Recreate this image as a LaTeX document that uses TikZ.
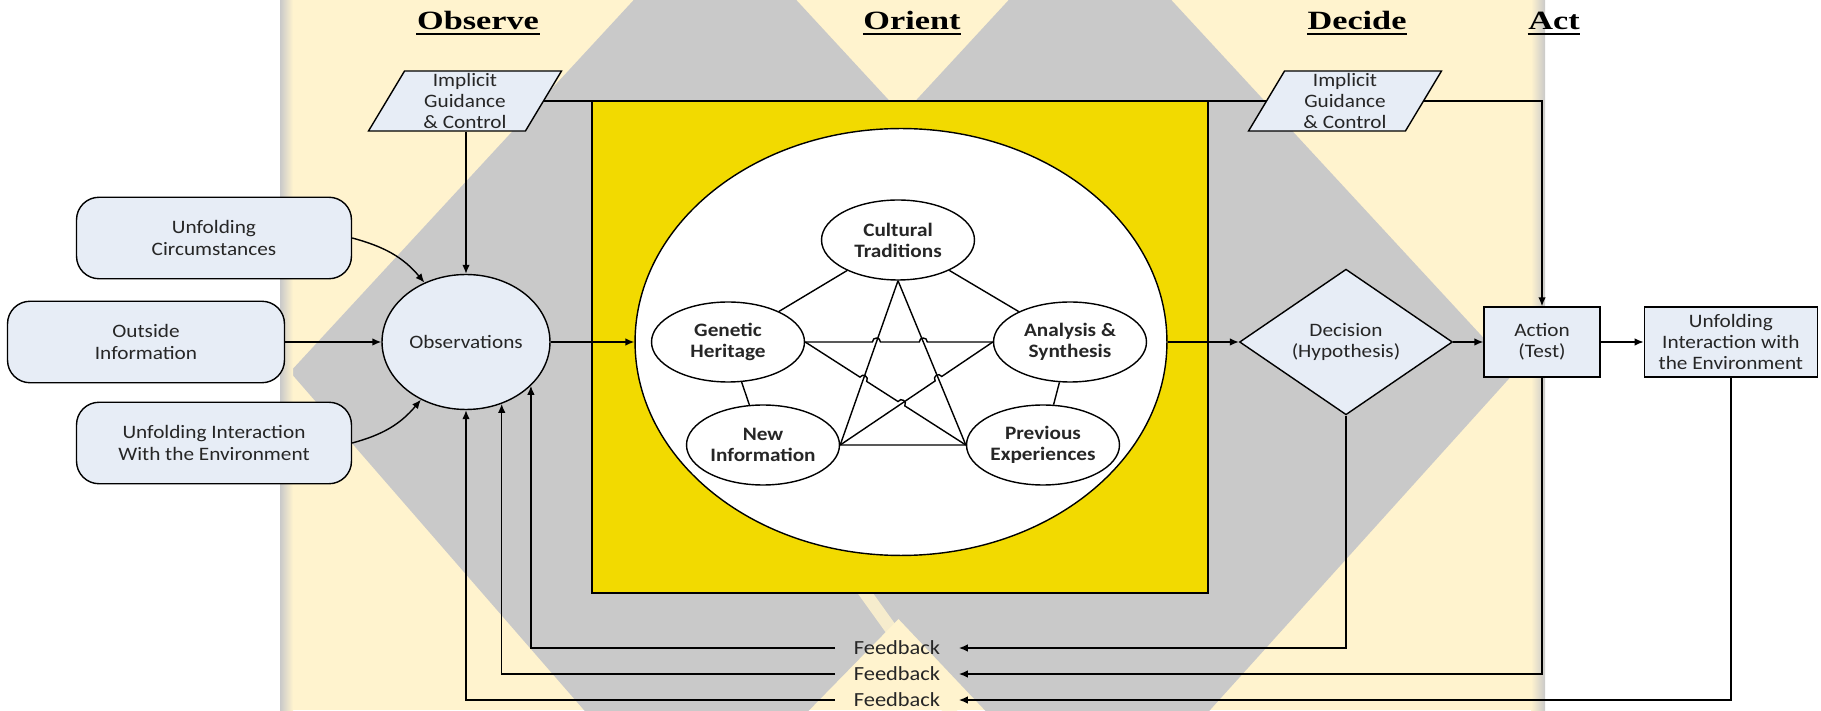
\documentclass[tikz,border=0pt]{standalone}
\usepackage{fontspec}
\setmainfont{Carlito}[FakeStretch=1.12]
\newfontfamily\titlefont{Liberation Serif}[FakeStretch=1.3]
\usetikzlibrary{positioning, shapes.geometric, arrows.meta, calc, intersections}

\definecolor{bandyellow}{RGB}{255,243,206}
\definecolor{markgray}{RGB}{201,201,201}
\definecolor{orientyellow}{RGB}{242,218,0}
\definecolor{nodeblue}{RGB}{231,237,246}
\definecolor{inktext}{RGB}{38,38,38}

\tikzset{
  basetext/.style={font=\fontsize{10.8}{12}\selectfont, text=inktext, align=center},
  phase/.style={font=\titlefont\bfseries\fontsize{15}{18}\selectfont, anchor=base, inner sep=0pt},
  inbox/.style={basetext, draw, fill=nodeblue, rounded corners=0.45cm, minimum width=5.5cm, minimum height=1.63cm},
  guide/.style={basetext, draw, fill=nodeblue, trapezium, trapezium left angle=57, trapezium right angle=123,
    trapezium stretches body, minimum width=3.86cm, minimum height=1.2cm, inner sep=0pt},
  obsnode/.style={basetext, draw, fill=nodeblue, ellipse, minimum width=3.36cm, minimum height=2.7cm, inner sep=0pt},
  idea/.style={basetext, font=\fontsize{10.8}{12}\selectfont\bfseries, draw, fill=white, ellipse,
    minimum width=3.06cm, minimum height=1.6cm, inner sep=0pt},
  decnode/.style={basetext, draw, fill=nodeblue, diamond, minimum width=4.26cm, minimum height=2.8cm, inner sep=0pt},
  actbox/.style={basetext, draw, fill=nodeblue, minimum height=1.4cm, inner sep=0pt},
  fbtext/.style={basetext, font=\fontsize{11.4}{12}\selectfont, inner xsep=0.36cm, inner ysep=0pt},
  hopbend/.style={bend left=90, looseness=1.7}
}
\newcommand{\hoprad}{0.08cm}

\begin{document}
\begin{tikzpicture}[x=0.02cm, y=0.02cm, line width=0.8pt, >={Latex[length=1.8mm, width=1.5mm]}]
    \useasboundingbox (0,0) rectangle (1821,710);
    % watermark behind the diagram
    \fill[bandyellow] (280,0) rectangle (1545,710);
    \begin{scope}
        \clip (280,0) rectangle (1545,710);
        \fill[markgray] (290,338) -- (715,798) -- (1140,338) -- (690,-122) -- cycle;
        \fill[markgray] (665,338) -- (1090,798) -- (1515,338) -- (1100,-122) -- cycle;
        \draw[bandyellow, opacity=0.85, line width=0.25cm] (830,166) -- (962,-18);
    \end{scope}
    \shade[left color=markgray, right color=bandyellow] (280,0) rectangle (293,710);
    \shade[left color=bandyellow, right color=markgray] (1531,0) rectangle (1545,710);

    % phase titles
    \node[phase] (ttlObs) at (478,680) {Observe};
    \node[phase] (ttlOri) at (912,680) {Orient};
    \node[phase] (ttlDec) at (1357,680) {Decide};
    \node[phase] (ttlAct) at (1554,680) {Act};
    \foreach \t in {ttlObs, ttlOri, ttlDec, ttlAct}
        \draw[line width=1.1pt] ([yshift=-2.4pt]\t.base west) -- ([yshift=-2.4pt]\t.base east);

    % orient block
    \draw[fill=orientyellow] (592,117) rectangle (1208,609);
    \node[draw, fill=white, ellipse, minimum width=10.64cm, minimum height=8.54cm] (orient) at (901,368) {};
    \node[idea] (ct) at (898,470) {Cultural\\Traditions};
    \node[idea] (gh) at (728,368) {Genetic\\Heritage};
    \node[idea] (as) at (1070,368) {Analysis \&\\Synthesis};
    \node[idea] (ni) at (763,265) {New\\Information};
    \node[idea] (pe) at (1043,265) {Previous\\Experiences};

    \draw (ct) -- (gh) (ct) -- (as) (gh) -- (ni) (as) -- (pe);
    \path[name path=ctni] (ct.south) -- (ni.east);
    \path[name path=ctpe] (ct.south) -- (pe.west);
    \path[name path=nias] (ni.east) -- (as.west);
    \path[name path=ghpe] (gh.east) -- (pe.west);
    \path[name path=ghas] (gh.east) -- (as.west);
    \draw (ct.south) -- (ni.east) (ct.south) -- (pe.west) (ni.east) -- (pe.west);
    \path[name intersections={of=nias and ctpe, by=h1}];
    \path[name intersections={of=ghpe and ctni, by=h2}];
    \path[name intersections={of=ghpe and nias, by=h3}];
    \path[name intersections={of=ghas and ctni, by=h4}];
    \path[name intersections={of=ghas and ctpe, by=h5}];
    \draw (ni.east) -- ($(h1)!\hoprad!(ni.east)$) to[hopbend] ($(h1)!\hoprad!(as.west)$) -- (as.west);
    \draw (gh.east) -- ($(h2)!\hoprad!(gh.east)$) to[hopbend] ($(h2)!\hoprad!(pe.west)$)
        -- ($(h3)!\hoprad!(gh.east)$) to[hopbend] ($(h3)!\hoprad!(pe.west)$) -- (pe.west);
    \draw (gh.east) -- ($(h4)!\hoprad!(gh.east)$) to[hopbend] ($(h4)!\hoprad!(as.west)$)
        -- ($(h5)!\hoprad!(gh.east)$) to[hopbend] ($(h5)!\hoprad!(as.west)$) -- (as.west);

    % observe side
    \node[guide] (impObs) at (465,609) {Implicit\\Guidance\\\& Control};
    \node[guide] (impDec) at (1345,609) {Implicit\\Guidance\\\& Control};
    \node[obsnode] (obs) at (466,368) {Observations};
    \node[inbox] (circ) at (214,472) {Unfolding\\Circumstances};
    \node[inbox, minimum width=5.54cm] (outside) at (146,368) {Outside\\Information};
    \node[inbox] (interact) at (214,267) {Unfolding Interaction\\With the Environment};

    % decide and act
    \node[decnode] (dec) at (1346,368) {Decision\\(Hypothesis)};
    \node[actbox, minimum width=2.32cm] (act) at (1542,368) {Action\\(Test)};
    \node[actbox, minimum width=3.46cm, right=0.86cm of act] (env) {Unfolding\\Interaction with\\the Environment};

    % feedback labels
    \node[fbtext] (fb1) at (897,62) {Feedback};
    \node[fbtext] (fb2) at (897,36) {Feedback};
    \node[fbtext] (fb3) at (897,10) {Feedback};

    % connectors
    \draw (impObs.east) -- (impDec.west);
    \draw[->] (impDec.east) -| (act.north);
    \draw[->] (obs.north |- impObs.south) -- (obs.north);
    \draw[->] (circ.east) to[out=-15, in=130] (obs.125);
    \draw[->] (outside.east) -- (obs.west);
    \draw[->] (interact.east) to[out=15, in=-130] (obs.232);
    \draw[->] (obs.east) -- (orient.west);
    \draw[->] (orient.east) -- (dec.west);
    \draw[->] (dec.east) -- (act.west);
    \draw[->] (act.east) -- (env.west);

    \draw[->] (dec.south) |- (fb1.east);
    \draw[->] (fb1.west) -| (obs.-34);
    \draw[->] (act.south) |- (fb2.east);
    \draw[->] (fb2.west) -| (obs.-60);
    \draw[->] (env.south) |- (fb3.east);
    \draw[->] (fb3.west) -| (obs.south);
\end{tikzpicture}
\end{document}
